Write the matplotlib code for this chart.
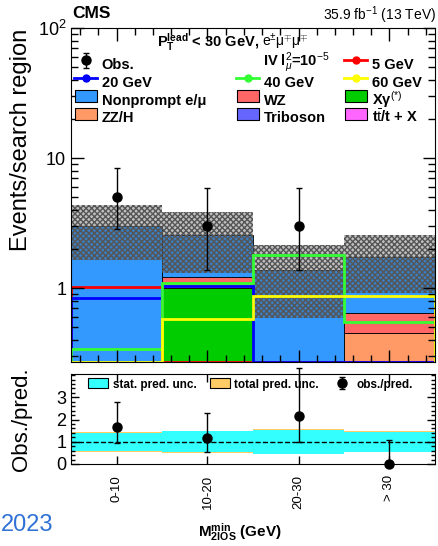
import numpy as np
import matplotlib
matplotlib.use('Agg')
import matplotlib.pyplot as plt
from matplotlib.lines import Line2D
from matplotlib.ticker import MultipleLocator, FixedLocator, LogLocator, NullFormatter

plt.rcParams['font.family'] = ['Liberation Sans', 'DejaVu Sans']
plt.rcParams['mathtext.fontset'] = 'custom'
plt.rcParams['mathtext.rm'] = 'Liberation Sans'
plt.rcParams['mathtext.it'] = 'Liberation Sans:italic'
plt.rcParams['mathtext.bf'] = 'Liberation Sans:bold'
plt.rcParams['hatch.linewidth'] = 1.0

# bins
categories = ['0-10', '10-20', '20-30', '> 30']

# backgrounds (stacked, bottom -> top)
zzh = [0.0, 0.0, 0.0, 0.45]
triboson = [0.0, 0.0, 0.0, 0.0]
ttx = [0.0, 0.0, 0.0, 0.0]
xgamma = [0.0, 1.0, 0.0, 0.0]
wz = [0.0, 0.22, 0.0, 0.19]
nonprompt = [3.0, 1.34, 1.375, 1.09]

# relative uncertainties on prediction
tot_unc = [0.45, 0.49, 0.57, 0.47]
stat_unc = [0.41, 0.47, 0.55, 0.45]

# observed with asymmetric poisson errors
obs = [5, 3, 3, 0]
obs_lo = [2.16, 1.63, 1.63, 0.0]
obs_hi = [3.38, 2.92, 2.92, 1.84]

# signal HNL (|V|^2 = 1e-5)
sig_5 = [1.02, 0.0, 0.0, 0.0]
sig_20 = [0.84, 1.04, 0.0, 0.0]
sig_40 = [0.34, 1.09, 1.79, 0.55]
sig_60 = [0.0, 0.58, 0.87, 0.87]

fig = plt.figure(figsize=(4.39, 5.46), dpi=100)
ax = fig.add_axes([71/439, 1-362/546, 364/439, 334/546])
rax = fig.add_axes([71/439, 1-464/546, 364/439, 90/546])

n = len(categories)
edges = np.arange(n + 1)
left = edges[:-1]

comps = [(zzh, '#ff9966'), (triboson, '#6666ff'), (ttx, '#ff66ff'),
         (xgamma, '#00cc00'), (wz, '#ff6666'), (nonprompt, '#3399ff')]
bottom = np.zeros(n)
for vals, col in comps:
    vals = np.array(vals)
    ax.bar(left, vals, width=1, bottom=bottom, align='edge', color=col, edgecolor='black', linewidth=0.6)
    bottom = bottom + vals
total = bottom

# uncertainty band
tu = np.array(tot_unc)
ax.bar(left, total*2*tu, width=1, bottom=total*(1-tu), align='edge', facecolor=(0.3, 0.3, 0.3, 0.35),
       edgecolor='#555555', hatch='xxxxxx', linewidth=0)

# signal lines
sigs = [(sig_5, '#ff0000'), (sig_20, '#0000ff'), (sig_40, '#33ff33'), (sig_60, '#ffff00')]
for vals, col in sigs:
    v = np.clip(np.array(vals), 0.271, None)
    ax.stairs(v, edges, color=col, linewidth=2)

# observed
obs = np.array(obs, dtype=float)
m = obs > 0
eb = ax.errorbar(left[m] + 0.5, obs[m], yerr=[np.array(obs_lo)[m], np.array(obs_hi)[m]], fmt='o', color='black',
                 markersize=6.5, elinewidth=1, capsize=2, capthick=1)

ax.set_yscale('log')
ax.set_ylim(0.27, 100)
ax.set_xlim(0, n)
ax.xaxis.set_major_locator(FixedLocator(left + 0.5))
ax.xaxis.set_minor_locator(FixedLocator(np.arange(0.1, n, 0.2)))
ax.set_xticklabels([])
ax.yaxis.set_minor_locator(LogLocator(subs=np.arange(2, 10)))
ax.yaxis.set_minor_formatter(NullFormatter())
ax.set_yticks([1, 10, 100])
ax.set_yticklabels(['1', '10', '10$^2$'])
ax.tick_params(which='both', direction='in', top=True, right=True, labelsize=13, width=1)
ax.tick_params(which='major', length=9)
ax.tick_params(which='minor', length=5)
ax.set_ylabel('Events/search region', fontsize=17)
ax.yaxis.set_label_coords(-0.108, 0.665)

fig.text(72/439, 1-14/546, 'CMS', fontsize=12.5, fontweight='bold', va='center', ha='left')
fig.text(436/439, 1-15/546, '35.9 fb$^{-1}$ (13 TeV)', fontsize=10, va='center', ha='right')
fig.text(259/439, 1-42/546, r'P$_\mathbf{T}^\mathbf{lead}$ < 30 GeV,', fontsize=10.5, fontweight='bold', va='center', ha='right')
fig.text(262/439, 1-42/546, r'e$^{\pm}$μ$^{\mp}$μ$^{\mp}$', fontsize=10, va='center', ha='left')

# legends (three columns)
rect = [(-1, -0.52), (1, -0.52), (1, 0.52), (-1, 0.52), (-1, -0.52)]

def sig_handle(c):
    return Line2D([0], [0], color=c, linewidth=2, marker='o', markersize=5)

def box(c, size=16.5):
    return Line2D([0], [0], linestyle='none', marker=rect, markersize=size, markerfacecolor=c,
                  markeredgecolor='black', markeredgewidth=0.8)

blank = Line2D([], [], linestyle='none')
cols = [
    ([eb, sig_handle('#0000ff'), box('#3399ff'), box('#ff9966')], ['Obs.', '20 GeV', 'Nonprompt e/μ', 'ZZ/H']),
    ([blank, sig_handle('#33ff33'), box('#ff6666'), box('#6666ff')], ['', '40 GeV', 'WZ', 'Triboson']),
    ([sig_handle('#ff0000'), sig_handle('#ffff00'), box('#00cc00'), box('#ff66ff')], ['5 GeV', '60 GeV', 'Xγ$^{(*)}$', r't$\bar{\mathrm{t}}$/t + X']),
]
xs = [(74-71)/364, (236-71)/364, (344-71)/364]
for i, (h, l) in enumerate(cols):
    leg = ax.legend(h, l, loc='upper left', bbox_to_anchor=(xs[i], (362-52)/334), frameon=False,
                    prop={'weight': 'bold', 'size': 10.5}, borderpad=0, borderaxespad=0,
                    handlelength=1.6, handleheight=2.2, handletextpad=0.3, labelspacing=-0.45)
    if i < 2:
        ax.add_artist(leg)
fig.text(263/439, 1-63/546, r'IV l$_{\mu}^{2}$=10$^{-5}$', fontsize=10.5, fontweight='bold', va='center', ha='left')

# ratio panel
su = np.array(stat_unc)
rax.stairs(1 + tu, edges, baseline=1 - tu, fill=True, color='#ffcc66')
rax.stairs(1 + su, edges, baseline=1 - su, fill=True, color='#33ffff')
rax.axhline(1, color='black', linestyle='--', linewidth=1)
ratio = obs / total
rlo = np.array(obs_lo) / total
rhi = np.array(obs_hi) / total
reb = rax.errorbar(left + 0.5, ratio, yerr=[rlo, rhi], fmt='o', color='black', markersize=6.5,
                   elinewidth=1, capsize=2, capthick=1, clip_on=False)
rax.set_xlim(0, n)
rax.set_ylim(0, 4.05)
rax.set_yticks([0, 1, 2, 3])
rax.yaxis.set_minor_locator(MultipleLocator(0.2))
rax.set_xticks(left + 0.5)
rax.set_xticklabels(categories, rotation=90, fontsize=9.5)
rax.tick_params(which='both', direction='in', top=True, right=True, labelsize=13, width=1)
rax.tick_params(axis='x', labelsize=9.5, pad=8)
rax.tick_params(which='major', length=6)
rax.tick_params(which='minor', length=3)
rax.set_ylabel('Obs./pred.', fontsize=16)
rax.yaxis.set_label_coords(-0.108, 0.5)
rax.legend([box('#33ffff', 15), box('#ffcc66', 15), reb], ['stat. pred. unc.', 'total pred. unc.', 'obs./pred.'],
           loc='upper left', bbox_to_anchor=((87-71)/364, 1 - 4/90), ncol=3, frameon=False,
           prop={'weight': 'bold', 'size': 8.5}, borderpad=0, borderaxespad=0, handlelength=1.9,
           handleheight=1.3, handletextpad=0.3, columnspacing=1.0)

fig.text(240/439, 1-532/546, r'M$_\mathbf{2lOS}^\mathbf{min}$ (GeV)', fontsize=11, fontweight='bold', ha='center', va='center')
fig.text(1/439, 1-525/546, '2023', fontsize=17, color='#2f72d6', ha='left', va='center')

fig.savefig('out.png', dpi=100)
